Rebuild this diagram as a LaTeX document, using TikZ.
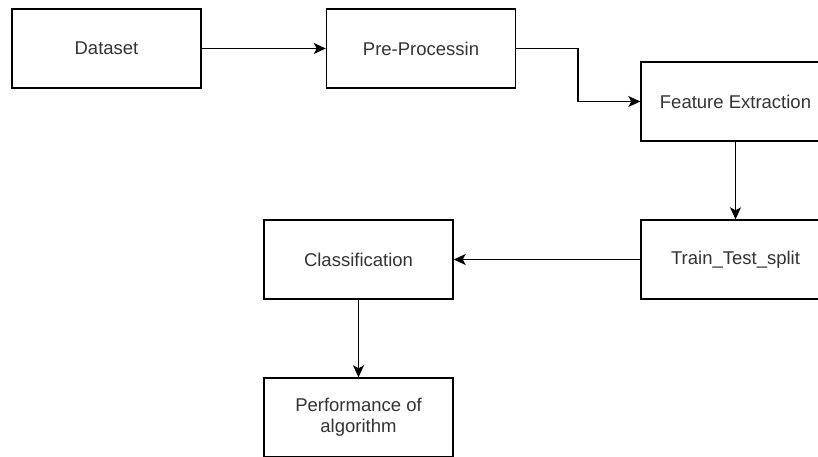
\documentclass[tikz,border=0pt]{standalone}
\usepackage{fontspec}
\setmainfont{Liberation Sans}
\usetikzlibrary{arrows.meta}
\definecolor{txt}{HTML}{333333}
\begin{document}
\begin{tikzpicture}[x=1pt,y=-1pt,
  box/.style={draw=black,line width=1.4pt,minimum width=189pt,minimum height=79pt,inner sep=0pt,
    font=\fontsize{18.5}{21}\selectfont,text=txt,align=center},
  conn/.style={draw=black,line width=1.5pt,-{Stealth[length=12pt,width=11pt,inset=3pt]}}]
\clip (0,0) rectangle (818,456);
\fill[white] (0,0) rectangle (818,456);
\node[box] (data) at (106.5,48.5) {Dataset};
\node[box] (pre) at (421,48.5) {Pre-Processin};
\node[box] (feat) at (735.5,101.5) {Feature Extraction};
\node[box] (train) at (735.5,259.5) {Train\_Test\_split};
\node[box] (cls) at (358.5,259.5) {Classification};
\node[box] (perf) at (358.5,417.5) {Performance of\\algorithm};
\draw[conn] (data) -- (pre);
\draw[conn] (pre.east) -- ++(62,0) |- (feat.west);
\draw[conn] (feat) -- (train);
\draw[conn] (train) -- (cls);
\draw[conn] (cls) -- (perf);
\end{tikzpicture}
\end{document}
